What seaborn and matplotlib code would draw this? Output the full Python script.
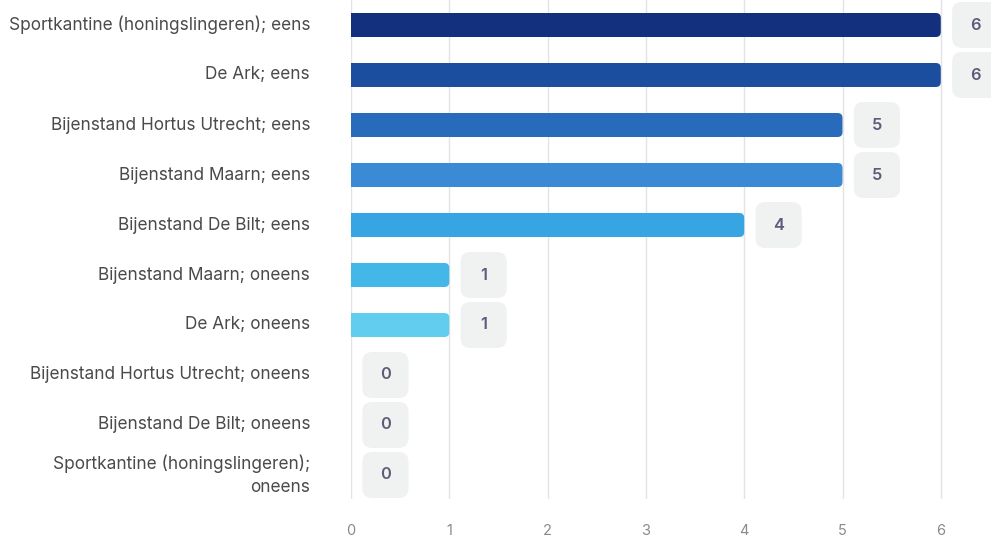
import matplotlib
matplotlib.use("Agg")
import matplotlib.pyplot as plt
import seaborn as sns
import pandas as pd
from matplotlib.patches import FancyBboxPatch

categories = [
    "Sportkantine (honingslingeren); eens",
    "De Ark; eens",
    "Bijenstand Hortus Utrecht; eens",
    "Bijenstand Maarn; eens",
    "Bijenstand De Bilt; eens",
    "Bijenstand Maarn; oneens",
    "De Ark; oneens",
    "Bijenstand Hortus Utrecht; oneens",
    "Bijenstand De Bilt; oneens",
    "Sportkantine (honingslingeren);\noneens",
]
values = [6, 6, 5, 5, 4, 1, 1, 0, 0, 0]
colors = ["#13307F", "#1C4E9F", "#286BBA", "#3A8AD5", "#37A5E2",
          "#42B7E8", "#62CDEE", "#7DD8F2", "#9BE2F5", "#B5EAF8"]

sns.set_theme(style="white")
plt.rcParams["font.family"] = ["Inter", "DejaVu Sans"]

df = pd.DataFrame({"cat": categories, "val": values})
fig = plt.figure(figsize=(9.91, 5.38), dpi=100)
ax = fig.add_axes([351 / 991, 1 - 499 / 538, (991 - 351) / 991, 499 / 538])

sns.barplot(data=df, y="cat", x="val", hue="cat", palette=colors,
            saturation=1, legend=False, width=0.48, ax=ax, orient="h")

ax.set_xlim(0, (991 - 351) / 98.3)
ax.set_ylim(9.48, -0.5)

# round right ends of bars
for p in list(ax.patches):
    x0, y0 = p.get_x(), p.get_y()
    w, h = p.get_width(), p.get_height()
    fc = p.get_facecolor()
    p.set_visible(False)
    if w <= 0:
        continue
    r = 0.05
    fb = FancyBboxPatch((x0 - 0.1, y0), w + 0.1, h,
                        boxstyle=f"round,pad=0,rounding_size={r}",
                        mutation_aspect=98.3 / 50, fc=fc, ec="none",
                        clip_on=True, zorder=3)
    ax.add_patch(fb)
    fb.set_clip_path(ax.patch)

# value labels in rounded grey boxes
for i, v in enumerate(values):
    bx = FancyBboxPatch((v + 0.115, i - 0.46), 0.47, 0.92,
                        boxstyle="round,pad=0,rounding_size=0.1",
                        mutation_aspect=98.3 / 50, fc="#F0F1F1", ec="none",
                        clip_on=False, zorder=3)
    ax.add_patch(bx)
    ax.text(v + 0.35, i, str(v), ha="center", va="center", fontsize=11.8,
            fontweight="semibold", color="#5B5B7A", zorder=4, clip_on=False)

ax.set_xticks(range(0, 7))
ax.grid(axis="x", color="#E3E3E3", linewidth=1)
ax.set_axisbelow(True)
for s in ax.spines.values():
    s.set_visible(False)
ax.set_xlabel("")
ax.set_ylabel("")
ax.set_yticks(range(len(categories)))
ax.set_yticklabels(categories, linespacing=1.45, multialignment="right",
                   va="center")
ax.tick_params(axis="y", pad=29.5, labelsize=12.4, labelcolor="#4A4A4A", length=0)
ax.tick_params(axis="x", pad=18, labelsize=10.5, labelcolor="#8A8A8A", length=0)

fig.savefig("out.png", dpi=100)
